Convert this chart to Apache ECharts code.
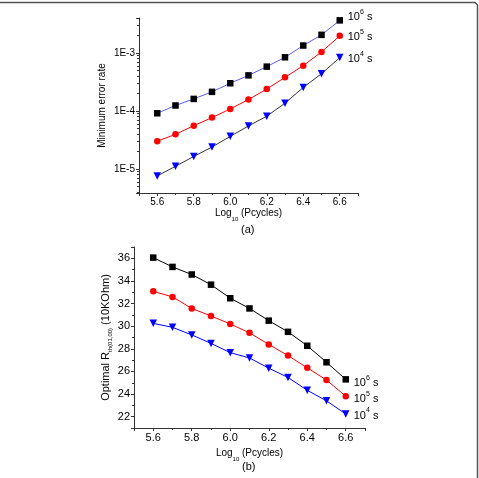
<!DOCTYPE html>
<html>
<head>
<meta charset="utf-8">
<script src="https://cdn.jsdelivr.net/npm/echarts@6/dist/echarts.min.js"></script>
<style>
    html, body { margin: 0; padding: 0; background: #fff; }
    #chart { width: 479px; height: 478px; }
</style>
</head>
<body>
<div id="chart"></div>
<script>
    // x values, shared by both panels
    var cycles = [5.6, 5.7, 5.8, 5.9, 6.0, 6.1, 6.2, 6.3, 6.4, 6.5, 6.6];

    // (a) minimum error rate
    var err1e6 = [9.1e-5, 1.24e-4, 1.61e-4, 2.13e-4, 3.0e-4, 4.1e-4, 5.8e-4, 8.4e-4, 1.34e-3, 2.05e-3, 3.64e-3];
    var err1e5 = [3.0e-5, 3.94e-5, 5.57e-5, 7.66e-5, 1.08e-4, 1.57e-4, 2.38e-4, 3.79e-4, 6.03e-4, 1.04e-3, 1.97e-3];
    var err1e4 = [7.57e-6, 1.11e-5, 1.64e-5, 2.38e-5, 3.64e-5, 5.5e-5, 8.1e-5, 1.36e-4, 2.54e-4, 4.38e-4, 8.3e-4];

    // (b) optimal R_th(01,00), 10KOhm
    var r1e6 = [36.06, 35.24, 34.57, 33.67, 32.47, 31.57, 30.49, 29.50, 28.27, 26.81, 25.30];
    var r1e5 = [33.08, 32.59, 31.57, 30.90, 30.20, 29.41, 28.39, 27.40, 26.32, 25.24, 23.81];
    var r1e4 = [30.25, 29.90, 29.23, 28.48, 27.66, 27.19, 26.29, 25.47, 24.33, 23.40, 22.24];

    var retentions = ['6', '5', '4'];

    var font = 'Liberation Sans, Arial, sans-serif';

    function pairs(ys) {
        return cycles.map(function (x, i) { return [x, ys[i]]; });
    }

    var supRich = {
        a: { fontSize: 11, fontFamily: font, color: '#000', lineHeight: 14, verticalAlign: 'bottom' },
        s: { fontSize: 7, fontFamily: font, color: '#000', lineHeight: 14, verticalAlign: 'top' }
    };

    function endLabel(exp, offset) {
        return {
            show: true,
            formatter: '{a|10}{s|' + exp + '}{a| s}',
            rich: supRich,
            distance: 8,
            offset: offset
        };
    }

    function xAxisOf(grid, size, nameGap) {
        return {
            type: 'value', gridIndex: grid, min: 5.5, max: 6.7, splitNumber: 6,
            name: '{a|Log}{b|10}{a| (Pcycles)}',
            nameLocation: 'middle', nameGap: nameGap,
            nameTextStyle: {
                rich: {
                    a: { fontSize: 10, fontFamily: font, color: '#000', lineHeight: 12 },
                    b: { fontSize: 6, fontFamily: font, color: '#000', lineHeight: 12, verticalAlign: 'bottom', padding: [0, 0, -3, 0] }
                }
            },
            axisLine: { lineStyle: { color: '#333', width: 1 } },
            axisTick: { length: 3, lineStyle: { color: '#333' } },
            minorTick: { show: true, splitNumber: 2, length: 2, lineStyle: { color: '#333' } },
            splitLine: { show: false },
            axisLabel: {
                fontSize: size, fontFamily: font, color: '#000', margin: 4,
                showMinLabel: false, showMaxLabel: false,
                formatter: function (v) { return v.toFixed(1); }
            }
        };
    }

    var chart = echarts.init(document.getElementById('chart'));
    chart.setOption({
        animation: false,
        grid: [
            { left: 139, right: 121, top: 18, height: 175 },
            { left: 134, right: 114, top: 247, height: 181 }
        ],
        xAxis: [xAxisOf(0, 10, 14), xAxisOf(1, 11, 19)],
        yAxis: [
            {
                type: 'log', gridIndex: 0, min: 3.84e-6, max: 4e-3,
                name: 'Minimum error rate', nameLocation: 'middle', nameGap: 32,
                nameTextStyle: { fontSize: 10, fontFamily: font, color: '#000' },
                axisLine: { lineStyle: { color: '#333', width: 1 } },
                axisTick: { length: 3, lineStyle: { color: '#333' } },
                minorTick: { show: true, splitNumber: 9, length: 2, lineStyle: { color: '#333' } },
                splitLine: { show: false },
                axisLabel: {
                    fontSize: 10, fontFamily: font, color: '#000', margin: 4,
                    showMinLabel: false, showMaxLabel: false,
                    formatter: function (v) { return '1E' + Math.round(Math.log10(v)); }
                }
            },
            {
                type: 'value', gridIndex: 1, min: 21, max: 37, splitNumber: 8,
                name: '{a|Optimal R}{b|th(01,00)}{a| (10KOhm)}',
                nameLocation: 'middle', nameGap: 21,
                nameTextStyle: {
                    rich: {
                        a: { fontSize: 11, fontFamily: font, color: '#000', lineHeight: 13, verticalAlign: 'top' },
                        b: { fontSize: 6, fontFamily: font, color: '#000', lineHeight: 13, verticalAlign: 'bottom' }
                    }
                },
                axisLine: { lineStyle: { color: '#333', width: 1 } },
                axisTick: { length: 3, lineStyle: { color: '#333' } },
                minorTick: { show: true, splitNumber: 2, length: 2, lineStyle: { color: '#333' } },
                splitLine: { show: false },
                axisLabel: {
                    fontSize: 11, fontFamily: font, color: '#000', margin: 4,
                    showMinLabel: false, showMaxLabel: false
                }
            }
        ],
        graphic: [
            // page frame fragment (top and right edge)
            { type: 'polyline', silent: true, shape: { points: [[0, 2.5], [475, 2.5], [477.5, 5], [477.5, 478]] },
              style: { fill: 'none', stroke: '#555', lineWidth: 1.5 } },
            { type: 'text', left: 241, top: 224, style: { text: '(a)', fontSize: 11, fontFamily: font, fill: '#000' } },
            { type: 'text', left: 242, top: 461, style: { text: '(b)', fontSize: 11, fontFamily: font, fill: '#000' } }
        ],
        series: [
            {
                type: 'line', xAxisIndex: 0, yAxisIndex: 0, data: pairs(err1e6),
                symbol: 'rect', symbolSize: 6.5, itemStyle: { color: '#000' },
                lineStyle: { color: '#5a5af0', width: 1 },
                endLabel: endLabel(retentions[0], [0, -5])
            },
            {
                type: 'line', xAxisIndex: 0, yAxisIndex: 0, data: pairs(err1e5),
                symbol: 'circle', symbolSize: 6.5, itemStyle: { color: '#f00' },
                lineStyle: { color: '#f00', width: 1 },
                endLabel: endLabel(retentions[1], [0, 0])
            },
            {
                type: 'line', xAxisIndex: 0, yAxisIndex: 0, data: pairs(err1e4),
                symbol: 'triangle', symbolRotate: 180, symbolSize: 7.5, itemStyle: { color: '#00f' },
                lineStyle: { color: '#333', width: 1 },
                endLabel: endLabel(retentions[2], [0, 0])
            },
            {
                type: 'line', xAxisIndex: 1, yAxisIndex: 1, data: pairs(r1e6),
                symbol: 'rect', symbolSize: 6.5, itemStyle: { color: '#000' },
                lineStyle: { color: '#000', width: 1 },
                endLabel: endLabel(retentions[0], [0, 2])
            },
            {
                type: 'line', xAxisIndex: 1, yAxisIndex: 1, data: pairs(r1e5),
                symbol: 'circle', symbolSize: 6.5, itemStyle: { color: '#f00' },
                lineStyle: { color: '#f00', width: 1 },
                endLabel: endLabel(retentions[1], [0, 1])
            },
            {
                type: 'line', xAxisIndex: 1, yAxisIndex: 1, data: pairs(r1e4),
                symbol: 'triangle', symbolRotate: 180, symbolSize: 7.5, itemStyle: { color: '#00f' },
                lineStyle: { color: '#00f', width: 1 },
                endLabel: endLabel(retentions[2], [0, 0])
            }
        ]
    });
</script>
</body>
</html>
